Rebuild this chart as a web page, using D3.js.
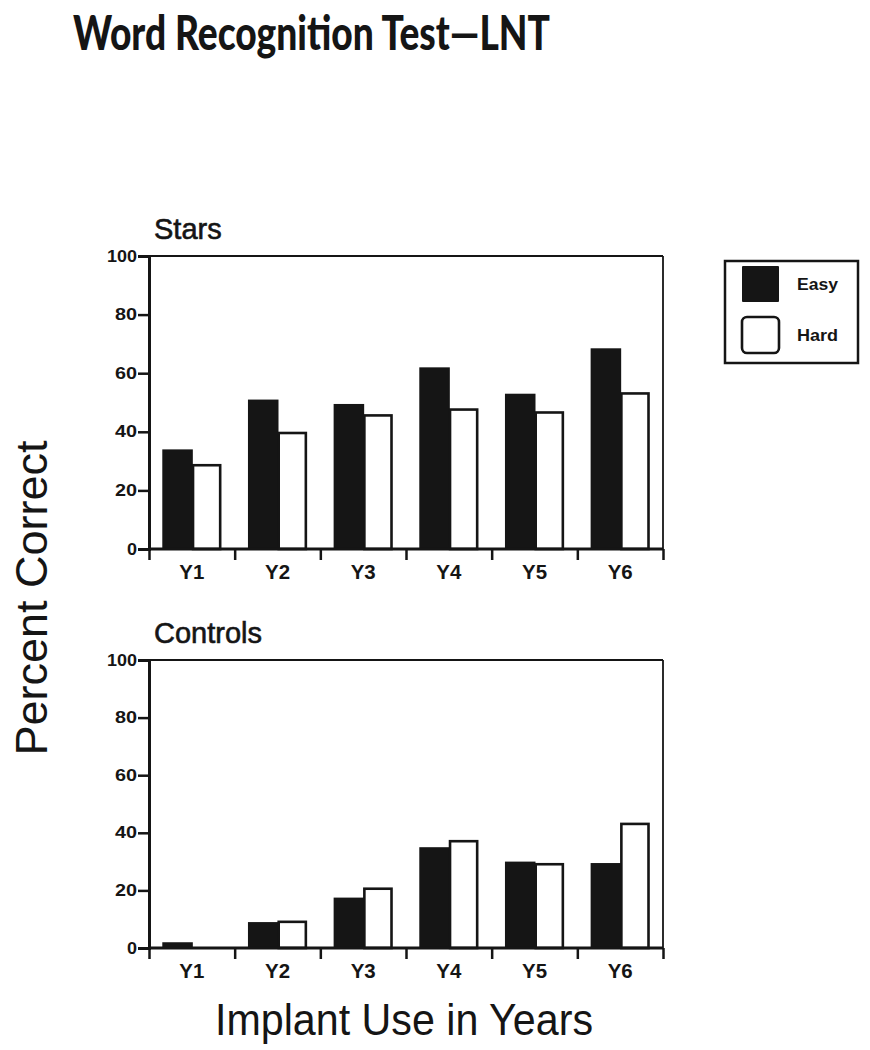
<!DOCTYPE html>
<html>
<head>
<meta charset="utf-8">
<script src="https://cdn.jsdelivr.net/npm/d3@7"></script>
<style>
  html, body { margin: 0; padding: 0; background: #fff; }
  svg { display: block; }
</style>
</head>
<body>
<svg id="chart" width="870" height="1050"></svg>
<script>
// ---- data ----
const categories = ["Y1", "Y2", "Y3", "Y4", "Y5", "Y6"];
const tickLabels = ["Y1", "Y2", "Y3", "Y4", "Y5", "Y6"];
const seriesNames = ["Easy", "Hard"];
const starsEasy = [34, 51, 49.5, 62, 53, 68.5];
const starsHard = [29, 40, 46, 48, 47, 53.5];
const controlsEasy = [2, 9, 17.5, 35, 30, 29.5];
const controlsHard = [0, 9.5, 21, 37.5, 29.5, 43.5];
const yTicks = [0, 20, 40, 60, 80, 100];

const panels = [
  { title: "Stars", easy: starsEasy, hard: starsHard, y0: 549, y1: 256 },
  { title: "Controls", easy: controlsEasy, hard: controlsHard, y0: 948, y1: 660 }
];

const svg = d3.select("#chart");
const left = 149, right = 663;
const ink = "#151515";
const font = "'Liberation Sans', Arial, sans-serif";

// Title
svg.append("text")
  .attr("x", 73).attr("y", 50)
  .attr("textLength", 477).attr("lengthAdjust", "spacingAndGlyphs")
  .style("font-family", "Lato, 'Open Sans', sans-serif")
  .style("font-weight", 900).style("font-size", "47px").attr("fill", ink)
  .text("Word Recognition Test\u2014LNT");

const x0 = d3.scaleBand().domain(categories).range([left, right]).padding(0);
const x1 = d3.scaleBand().domain(seriesNames).range([0, x0.bandwidth()]).paddingInner(0).paddingOuter(0.45);
const xb = d3.scaleLinear().domain([0, categories.length]).range([left, right]);

panels.forEach(p => {
  const y = d3.scaleLinear().domain([0, 100]).range([p.y0, p.y1]);
  const g = svg.append("g");

  // panel title
  g.append("text").attr("x", left + 5).attr("y", p.y1 - 17)
    .style("font-family", font).style("font-size", "29px").style("font-weight", 400)
    .attr("stroke", ink).attr("stroke-width", 0.6)
    .attr("fill", ink).text(p.title);

  // frame top & right
  g.append("line").attr("x1", left).attr("x2", right).attr("y1", y(100)).attr("y2", y(100))
    .attr("stroke", ink).attr("stroke-width", 1.8);
  g.append("line").attr("x1", right).attr("x2", right).attr("y1", y(100)).attr("y2", y(0))
    .attr("stroke", ink).attr("stroke-width", 1.8);

  // bars
  const rows = categories.map((c, i) => ({ cat: c, Easy: p.easy[i], Hard: p.hard[i] }));
  const grp = g.selectAll("g.grp").data(rows).join("g").attr("class", "grp")
    .attr("transform", d => `translate(${x0(d.cat)},0)`);
  grp.append("rect")
    .attr("x", x1("Easy")).attr("width", x1.bandwidth() + 1)
    .attr("y", d => y(d.Easy)).attr("height", d => y(0) - y(d.Easy))
    .attr("fill", ink);
  grp.filter(d => d.Hard > 0).append("rect")
    .attr("x", x1("Hard") + 1.2).attr("width", x1.bandwidth() - 2.4)
    .attr("y", d => y(d.Hard) + 1.2).attr("height", d => Math.max(0, y(0) - y(d.Hard) - 1.2))
    .attr("fill", "#fff").attr("stroke", ink).attr("stroke-width", 2.6);

  // y axis
  const ya = g.append("g").attr("transform", `translate(${left},0)`)
    .call(d3.axisLeft(y).tickValues(yTicks).tickSize(11).tickPadding(1).tickFormat(d3.format("d")));
  ya.select(".domain").attr("stroke", ink).attr("stroke-width", 3);
  ya.selectAll(".tick line").attr("stroke", ink).attr("stroke-width", 2.5);
  ya.selectAll(".tick text").attr("fill", ink)
    .style("font-family", font).style("font-size", "16px").style("font-weight", 700)
    .attr("textLength", d => d === 100 ? 30 : (d === 0 ? 10 : 22)).attr("lengthAdjust", "spacingAndGlyphs");

  // x axis boundary ticks
  const xa = g.append("g").attr("transform", `translate(0,${y(0)})`)
    .call(d3.axisBottom(xb).tickValues(d3.range(categories.length + 1)).tickSize(11).tickFormat(""));
  xa.select(".domain").attr("stroke", ink).attr("stroke-width", 3).attr("d", `M${left},0H${right}`);
  xa.selectAll(".tick line").attr("stroke", ink).attr("stroke-width", 2.5);

  // x labels
  const xl = g.append("g").attr("transform", `translate(0,${y(0)})`)
    .call(d3.axisBottom(x0).tickSize(0).tickPadding(15).tickFormat((d, i) => tickLabels[i]));
  xl.select(".domain").remove();
  xl.selectAll(".tick text").attr("fill", ink)
    .style("font-family", font).style("font-size", "21px").style("font-weight", 700)
    .attr("textLength", 25).attr("lengthAdjust", "spacingAndGlyphs");
});

// axis titles
svg.append("text")
  .attr("transform", "translate(47,598) rotate(-90)")
  .attr("text-anchor", "middle")
  .attr("textLength", 315).attr("lengthAdjust", "spacingAndGlyphs")
  .style("font-family", font).style("font-size", "44px").attr("fill", ink)
  .text("Percent Correct");

svg.append("text")
  .attr("x", 404).attr("y", 1035).attr("text-anchor", "middle")
  .attr("textLength", 378).attr("lengthAdjust", "spacingAndGlyphs")
  .style("font-family", font).style("font-size", "44px").attr("fill", ink)
  .text("Implant Use in Years");

// legend
const leg = svg.append("g");
leg.append("rect").attr("x", 725).attr("y", 261).attr("width", 133).attr("height", 102)
  .attr("fill", "#fff").attr("stroke", ink).attr("stroke-width", 2.5);
const legItems = seriesNames.map((n, i) => ({ name: n, i }));
const ly = d3.scalePoint().domain(seriesNames).range([284, 335]);
leg.selectAll("rect.sw").data(legItems).join("rect").attr("class", "sw")
  .attr("x", 742).attr("width", 37)
  .attr("y", d => ly(d.name) - 18).attr("height", 36)
  .attr("rx", d => d.i === 0 ? 1 : 5)
  .attr("fill", d => d.i === 0 ? ink : "#fff")
  .attr("stroke", ink).attr("stroke-width", d => d.i === 0 ? 0 : 2.6);
leg.selectAll("text.lt").data(legItems).join("text").attr("class", "lt")
  .attr("x", 797).attr("y", d => ly(d.name) + 6)
  .attr("textLength", 41).attr("lengthAdjust", "spacingAndGlyphs")
  .style("font-family", font).style("font-size", "16px").style("font-weight", 700)
  .attr("fill", ink).text(d => d.name);
</script>
</body>
</html>
